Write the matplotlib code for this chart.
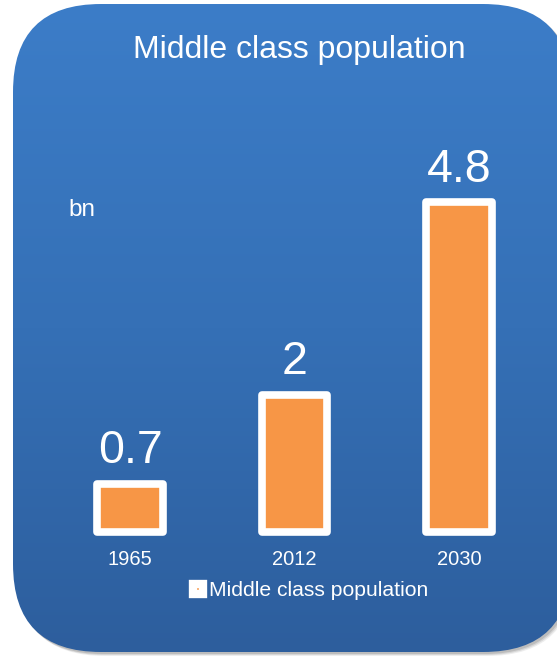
import numpy as np
import matplotlib
matplotlib.use("Agg")
import matplotlib.pyplot as plt
from matplotlib.patches import FancyBboxPatch
from matplotlib.lines import Line2D
from matplotlib.colors import LinearSegmentedColormap

plt.rcParams['font.family'] = ['Liberation Sans', 'DejaVu Sans']

# data
years = ['1965', '2012', '2030']
population_bn = [0.7, 2, 4.8]
series_name = 'Middle class population'
unit_label = 'bn'

W, H = 557, 657
fig = plt.figure(figsize=(W / 100, H / 100), dpi=100)
fig.patch.set_facecolor('white')

# rounded blue panel behind everything (pixel coordinates, y down)
bg = fig.add_axes([0, 0, 1, 1])
bg.set_xlim(0, W)
bg.set_ylim(H, 0)
bg.axis('off')

px0, py0, pw, ph, rad = 13, 4, 558, 648, 88
for off, alpha in [(4, 0.10), (3, 0.15), (2, 0.2)]:
    shadow = FancyBboxPatch((px0 + off, py0 + off), pw, ph,
                            boxstyle=f'round,pad=0,rounding_size={rad}',
                            facecolor='#555555', edgecolor='none', alpha=alpha,
                            zorder=0)
    bg.add_patch(shadow)

panel = FancyBboxPatch((px0, py0), pw, ph,
                       boxstyle=f'round,pad=0,rounding_size={rad}',
                       facecolor='none', edgecolor='none')
bg.add_patch(panel)
grad_cmap = LinearSegmentedColormap.from_list('panel', ['#3C7DC8', '#3570B6', '#2D5E9D'])
grad = np.linspace(0, 1, 256).reshape(-1, 1)
img = bg.imshow(grad, cmap=grad_cmap, extent=[px0, px0 + pw, py0 + ph, py0],
                aspect='auto', interpolation='bilinear', zorder=2)
img.set_clip_path(panel)

# bar chart
ax = fig.add_axes([47.75 / W, 1 - 531.7 / H, 493.5 / W, 411.6 / H])
ax.patch.set_alpha(0)
x = np.arange(len(years))
bars = ax.bar(x, population_bn, width=0.4, color='#F79646', edgecolor='white',
              linewidth=5.5, joinstyle='round')
for b in bars:
    b.set_clip_on(False)
ax.set_xlim(-0.5, 2.5)
ax.set_ylim(0, 6)
ax.set_xticks(x)
ax.set_xticklabels(years, color='white', fontsize=14.5)
ax.tick_params(axis='x', length=0, pad=13.5)
ax.set_yticks([])
for s in ax.spines.values():
    s.set_visible(False)

for xi, v in zip(x, population_bn):
    ax.annotate(f'{v:g}', (xi, v), xytext=(0, 15), textcoords='offset points',
                ha='center', va='baseline', color='white', fontsize=33.5)

fig.text(299 / W, 1 - 58.3 / H, series_name, ha='center', va='baseline',
         color='white', fontsize=23)
fig.text(68 / W, 1 - 216 / H, unit_label, ha='left', va='baseline',
         color='white', fontsize=17.5)

handle = Line2D([], [], linestyle='none', marker='s', markersize=7.5,
                markerfacecolor='#F79646', markeredgecolor='white',
                markeredgewidth=6)
fig.legend([handle], [series_name], loc='center left',
           bbox_to_anchor=(189 / W, 1 - 591 / H), frameon=False,
           fontsize=15.2, labelcolor='white', handlelength=0.85,
           handletextpad=0.12, borderpad=0, borderaxespad=0)

fig.savefig('out.png', dpi=100)
